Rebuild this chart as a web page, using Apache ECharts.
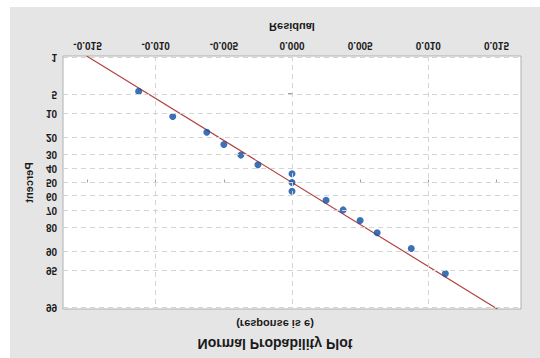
<!DOCTYPE html>
<html>
<head>
<meta charset="utf-8">
<script src="https://cdn.jsdelivr.net/npm/echarts@6/dist/echarts.min.js"></script>
<style>
  html, body { margin: 0; padding: 0; background: #ffffff; }
  #chart { width: 540px; height: 358px; transform: scaleY(-1); transform-origin: 50% 50%; }
</style>
</head>
<body>
<div id="chart"></div>
<script>
// ---- data ----
const residuals = [-0.01125, -0.00875, -0.00625, -0.005, -0.00375, -0.0025, 0, 0, 0, 0.0025, 0.00375, 0.005, 0.00625, 0.00875, 0.01125];
const percents  = [4.5, 11.0, 17.5, 24.0, 30.5, 37.0, 43.5, 50.0, 56.5, 63.0, 69.5, 76.0, 82.5, 89.0, 95.5];
const percentTicks = [1, 5, 10, 20, 30, 40, 50, 60, 70, 80, 90, 95, 99];
const residualTicks = [-0.015, -0.010, -0.005, 0.000, 0.005, 0.010, 0.015];
const residualGrid = [-0.015, -0.0125, -0.010, -0.0075, -0.005, -0.0025, 0, 0.0025, 0.005, 0.0075, 0.010, 0.0125, 0.015];
const fitMean = 0;
const fitStd = 0.0064;
const titleText = 'Normal Probability Plot';
const subtitleText = '(response is e)';
const xName = 'Residual';
const yName = 'Percent';

// inverse standard normal CDF (Acklam) -- probability axis transform
function normInv(p) {
  const a = [-3.969683028665376e+01, 2.209460984245205e+02, -2.759285104469687e+02, 1.383577518672690e+02, -3.066479806614716e+01, 2.506628277459239e+00];
  const b = [-5.447609879822406e+01, 1.615858368580409e+02, -1.556989798598866e+02, 6.680131188771972e+01, -1.328068155288572e+01];
  const c = [-7.784894002430293e-03, -3.223964580411365e-01, -2.400758277161838e+00, -2.549732539343734e+00, 4.374664141464968e+00, 2.938163982698783e+00];
  const d = [7.784695709041462e-03, 3.224671290700398e-01, 2.445134137142996e+00, 3.754408661907416e+00];
  const pl = 0.02425, ph = 1 - pl;
  let q, r;
  if (p < pl) {
    q = Math.sqrt(-2 * Math.log(p));
    return (((((c[0]*q+c[1])*q+c[2])*q+c[3])*q+c[4])*q+c[5]) / ((((d[0]*q+d[1])*q+d[2])*q+d[3])*q+1);
  } else if (p <= ph) {
    q = p - 0.5; r = q * q;
    return (((((a[0]*r+a[1])*r+a[2])*r+a[3])*r+a[4])*r+a[5])*q / (((((b[0]*r+b[1])*r+b[2])*r+b[3])*r+b[4])*r+1);
  } else {
    q = Math.sqrt(-2 * Math.log(1 - p));
    return -(((((c[0]*q+c[1])*q+c[2])*q+c[3])*q+c[4])*q+c[5]) / ((((d[0]*q+d[1])*q+d[2])*q+d[3])*q+1);
  }
}
const zOf = pct => normInv(pct / 100);

const zMin = -2.354, zMax = 2.354;
const xMin = -0.0168, xMax = 0.0168;
const tickZ = percentTicks.map(zOf);
const points = residuals.map((r, i) => [r, zOf(percents[i])]);
const fitLine = [[fitMean + fitStd * zMin, zMin], [fitMean + fitStd * zMax, zMax]];

const FONT = '"Liberation Sans", Arial, sans-serif';
const TXT = '#1a1a1a';
const gridStyle = { color: '#d4d4d4', type: [5, 4], width: 1 };

const chart = echarts.init(document.getElementById('chart'), null, { renderer: 'svg' });
chart.setOption({
  animation: false,
  graphic: [{
    type: 'rect', z: -10, silent: true,
    shape: { x: 10, y: 0, width: 530, height: 351 },
    style: { fill: '#e5e5e5' }
  }],
  title: [
    { text: titleText, left: 270, top: 2, textAlign: 'center',
      textStyle: { fontFamily: FONT, fontSize: 14, fontWeight: 'bold', color: TXT } },
    { text: subtitleText, left: 270, top: 24, textAlign: 'center',
      textStyle: { fontFamily: FONT, fontSize: 11, fontWeight: 'bold', color: TXT } }
  ],
  grid: { left: 63, right: 19, top: 49, bottom: 56, show: true, backgroundColor: '#ffffff', borderColor: '#b0b0b0', borderWidth: 1 },
  xAxis: {
    type: 'value', min: xMin, max: xMax,
    name: xName, nameLocation: 'middle', nameGap: 24,
    nameTextStyle: { fontFamily: FONT, fontSize: 11, fontWeight: 'bold', color: TXT },
    axisLine: { show: false },
    splitLine: { show: false },
    axisTick: { show: true, length: 3, customValues: residualTicks, lineStyle: { color: '#a0a0a0' } },
    axisLabel: { customValues: residualTicks, margin: 6, fontFamily: FONT, fontSize: 10, fontWeight: 'bold', color: TXT,
      formatter: v => v.toFixed(3) }
  },
  yAxis: {
    type: 'value', min: zMin, max: zMax,
    name: yName, nameLocation: 'middle', nameGap: 20, nameRotate: 90,
    nameTextStyle: { fontFamily: FONT, fontSize: 11, fontWeight: 'bold', color: TXT },
    axisLine: { show: false },
    splitLine: { show: false },
    axisTick: { show: true, length: 4, customValues: tickZ, lineStyle: { color: '#a0a0a0' } },
    axisLabel: { customValues: tickZ, margin: 6, fontFamily: FONT, fontSize: 10, fontWeight: 'bold', color: TXT,
      formatter: v => {
        let best = 0;
        tickZ.forEach((z, i) => { if (Math.abs(z - v) < Math.abs(tickZ[best] - v)) best = i; });
        return String(percentTicks[best]);
      } }
  },
  series: [
    {
      type: 'line', data: [], z: 1, silent: true,
      markLine: {
        silent: true, symbol: 'none', label: { show: false }, animation: false,
        lineStyle: gridStyle,
        data: residualGrid.map(v => ({ xAxis: v })).concat(tickZ.map(v => ({ yAxis: v })))
      }
    },
    {
      type: 'line', data: fitLine, z: 3, symbol: 'none', silent: true,
      lineStyle: { color: '#b5413e', width: 1.2 }
    },
    {
      type: 'scatter', data: points, z: 4, symbolSize: 7,
      itemStyle: { color: '#0b4fa3' }
    }
  ]
});
</script>
</body>
</html>
